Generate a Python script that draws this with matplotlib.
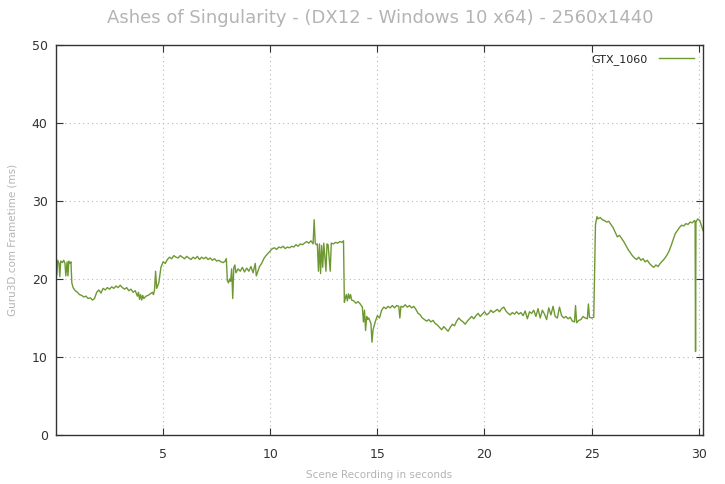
import matplotlib

matplotlib.use("Agg")
import matplotlib.pyplot as plt

TITLE = "Ashes of Singularity - (DX12 - Windows 10 x64) - 2560x1440"
SERIES_NAME = "GTX_1060"
X_LABEL = "Scene Recording in seconds"
Y_LABEL = "Guru3D.com Frametime (ms)"
X_TICKS = [5, 10, 15, 20, 25, 30]
Y_TICKS = [0, 10, 20, 30, 40, 50]

time_s = [
    0.00, 0.04, 0.08, 0.14, 0.18, 0.22, 0.30, 0.36, 0.42, 0.46, 0.52, 0.56, 0.60, 0.66, 0.70, 0.74,
    0.80, 0.90, 1.00, 1.10, 1.20, 1.30, 1.40, 1.50, 1.60, 1.70, 1.80, 1.90, 2.00, 2.10, 2.20, 2.30,
    2.40, 2.50, 2.60, 2.70, 2.80, 2.90, 3.00, 3.10, 3.20, 3.30, 3.40, 3.50, 3.60, 3.70, 3.80, 3.85,
    3.90, 3.95, 4.00, 4.05, 4.10, 4.20, 4.30, 4.40, 4.50, 4.55, 4.60, 4.65, 4.70, 4.80, 4.90, 5.00,
    5.10, 5.20, 5.30, 5.40, 5.50, 5.60, 5.70, 5.80, 5.90, 6.00, 6.10, 6.20, 6.30, 6.40, 6.50, 6.60,
    6.70, 6.80, 6.90, 7.00, 7.10, 7.20, 7.30, 7.40, 7.50, 7.60, 7.70, 7.80, 7.90, 7.95, 8.00, 8.05,
    8.10, 8.15, 8.20, 8.25, 8.30, 8.35, 8.40, 8.50, 8.60, 8.70, 8.80, 8.90, 9.00, 9.10, 9.20, 9.30,
    9.35, 9.40, 9.50, 9.60, 9.70, 9.80, 9.90, 10.00, 10.10, 10.20, 10.30, 10.40, 10.50, 10.60, 10.70,
    10.80, 10.90, 11.00, 11.10, 11.20, 11.30, 11.40, 11.50, 11.60, 11.70, 11.80, 11.90, 12.00, 12.05,
    12.10, 12.15, 12.20, 12.25, 12.30, 12.35, 12.40, 12.45, 12.50, 12.60, 12.65, 12.70, 12.80, 12.85,
    12.95, 13.05, 13.15, 13.25, 13.35, 13.42, 13.46, 13.50, 13.55, 13.60, 13.65, 13.70, 13.75, 13.80,
    13.90, 14.00, 14.10, 14.20, 14.30, 14.35, 14.40, 14.45, 14.50, 14.55, 14.60, 14.70, 14.75, 14.80,
    14.90, 15.00, 15.10, 15.20, 15.30, 15.40, 15.50, 15.60, 15.70, 15.80, 15.90, 16.00, 16.05, 16.10,
    16.20, 16.30, 16.40, 16.50, 16.60, 16.70, 16.80, 16.90, 17.00, 17.10, 17.20, 17.30, 17.40, 17.50,
    17.60, 17.70, 17.80, 17.90, 18.00, 18.10, 18.20, 18.30, 18.40, 18.50, 18.60, 18.70, 18.80, 18.90,
    19.00, 19.10, 19.20, 19.30, 19.40, 19.50, 19.60, 19.70, 19.80, 19.90, 20.00, 20.10, 20.20, 20.30,
    20.40, 20.50, 20.60, 20.70, 20.80, 20.90, 21.00, 21.10, 21.20, 21.30, 21.40, 21.50, 21.60, 21.70,
    21.80, 21.90, 22.00, 22.10, 22.20, 22.30, 22.40, 22.50, 22.60, 22.70, 22.80, 22.90, 23.00, 23.10,
    23.20, 23.30, 23.40, 23.50, 23.60, 23.70, 23.80, 23.90, 24.00, 24.10, 24.20, 24.25, 24.30, 24.40,
    24.50, 24.60, 24.70, 24.80, 24.85, 24.90, 25.00, 25.10, 25.18, 25.25, 25.30, 25.40, 25.50, 25.60,
    25.70, 25.80, 25.90, 26.00, 26.10, 26.20, 26.30, 26.40, 26.50, 26.60, 26.70, 26.80, 26.90, 27.00,
    27.10, 27.20, 27.30, 27.40, 27.50, 27.60, 27.70, 27.80, 27.90, 28.00, 28.10, 28.20, 28.30, 28.40,
    28.50, 28.60, 28.70, 28.80, 28.90, 29.00, 29.10, 29.20, 29.30, 29.40, 29.50, 29.60, 29.70, 29.80,
    29.83, 29.85, 29.87, 29.95, 30.05, 30.12, 30.20,
]

frametime_ms = [
    22.9, 20.5, 22.4, 22.0, 20.3, 22.3, 22.1, 22.4, 22.0, 20.4, 22.2, 20.4, 22.3, 22.0, 22.2, 19.5,
    18.9, 18.5, 18.3, 18.0, 17.9, 17.7, 17.8, 17.5, 17.6, 17.3, 17.5, 18.3, 18.6, 18.2, 18.8, 18.6,
    18.9, 18.7, 19.0, 18.8, 19.1, 18.9, 19.2, 18.9, 18.7, 18.9, 18.5, 18.7, 18.3, 18.5, 17.8, 18.3,
    17.4, 18.0, 17.3, 17.9, 17.5, 17.8, 17.9, 18.1, 18.3, 18.0, 18.6, 21.0, 18.8, 19.5, 21.5, 22.2,
    22.0, 22.5, 22.8, 22.6, 23.0, 22.8, 22.7, 23.0, 22.8, 22.6, 22.9, 22.7, 22.5, 22.8, 22.6, 22.9,
    22.5, 22.8, 22.6, 22.8, 22.5, 22.7, 22.4, 22.6, 22.3, 22.4, 22.2, 22.1, 22.3, 22.6, 19.8, 19.5,
    20.0, 19.7, 21.3, 17.5, 21.5, 21.8, 20.8, 21.3, 21.0, 21.5, 20.9, 21.4, 21.0, 21.6, 20.8, 22.0,
    20.4, 20.8, 21.6, 22.0, 22.6, 23.0, 23.3, 23.6, 23.9, 24.0, 23.8, 24.1, 24.0, 24.2, 23.9,
    24.1, 24.0, 24.2, 24.1, 24.4, 24.2, 24.5, 24.4, 24.6, 24.8, 24.6, 24.9, 24.5, 27.6,
    24.6, 24.4, 24.5, 21.0, 24.5, 20.7, 24.3, 21.5, 24.6, 21.0, 24.5, 24.4, 21.0, 24.6,
    24.5, 24.7, 24.6, 24.8, 24.7, 24.9, 17.0, 17.5, 18.0, 17.2, 18.1, 17.5, 18.0, 17.3,
    17.2, 16.9, 17.1, 16.8, 16.4, 14.5, 16.0, 13.4, 15.2, 14.8, 15.0, 14.3, 11.9, 13.5,
    14.5, 15.3, 15.0, 16.0, 16.4, 16.2, 16.5, 16.3, 16.6, 16.3, 16.6, 16.5, 15.0, 16.5,
    16.4, 16.7, 16.4, 16.6, 16.3, 16.5, 16.1, 15.6, 15.4, 15.0, 14.8, 14.6, 14.8, 14.5,
    14.7, 14.3, 14.1, 13.8, 13.5, 13.9, 13.6, 13.3, 13.8, 14.2, 14.0, 14.6, 15.0, 14.7,
    14.5, 14.2, 14.6, 14.9, 15.2, 14.9, 15.3, 15.6, 15.2, 15.5, 15.8, 15.4, 15.6, 16.0,
    15.7, 15.9, 16.1, 15.8, 16.2, 16.4, 15.9, 15.6, 15.4, 15.7, 15.5, 15.8, 15.5, 15.7,
    15.3, 15.9, 14.9, 15.8, 15.6, 16.0, 15.2, 16.2, 15.0, 16.0, 15.5, 14.8, 16.3, 15.4,
    16.5, 15.2, 15.0, 16.4, 15.3, 15.0, 15.2, 14.9, 15.1, 14.6, 14.5, 16.6, 14.4, 14.7,
    14.8, 15.2, 15.0, 14.9, 16.8, 15.1, 15.0, 15.1, 27.0, 28.0, 27.7, 27.9, 27.6, 27.5,
    27.3, 27.4, 27.0, 26.6, 26.0, 25.4, 25.6, 25.2, 24.8, 24.3, 23.8, 23.4, 23.0, 22.7,
    22.5, 22.8, 22.4, 22.6, 22.2, 22.4, 22.0, 21.7, 21.5, 21.8, 21.6, 22.0, 22.3, 22.6,
    23.0, 23.5, 24.2, 25.0, 25.8, 26.2, 26.6, 26.9, 26.8, 27.1, 27.0, 27.3, 27.2, 27.5,
    27.4, 10.7, 27.3, 27.7, 27.5, 26.9, 26.2,
]

line_color = "#6e9932"
grid_color = "#b8b8b8"

fig = plt.figure(figsize=(7.25, 4.84), dpi=100)
ax = fig.add_axes([0.0772, 0.1012, 0.8925, 0.8058])

ax.plot(time_s, frametime_ms, color=line_color, linewidth=1.0, label=SERIES_NAME)

ax.set_xlim(0, 30.2)
ax.set_ylim(0, 50)
ax.set_xticks(X_TICKS)
ax.set_yticks(Y_TICKS)
ax.grid(True, color=grid_color, linestyle=(0, (1, 3)), linewidth=0.8)
ax.tick_params(direction="in", top=True, right=True, length=5, width=0.8,
               labelsize=9, labelcolor="#333333", colors="#333333")
ax.tick_params(axis="x", pad=9)
ax.tick_params(axis="y", pad=6)
for spine in ax.spines.values():
    spine.set_color("#333333")
    spine.set_linewidth(1.0)

ax.set_xlabel(X_LABEL, fontsize=7.5, color="#b4b4b4", labelpad=7)
ax.set_ylabel(Y_LABEL, fontsize=7.5, color="#b4b4b4", labelpad=10)
fig.text(0.525, 0.962, TITLE, ha="center", va="center", fontsize=13,
         color="#b4b4b4", family="DejaVu Sans")

leg = ax.legend(loc="upper right", frameon=False, fontsize=8,
                handlelength=3.2, borderaxespad=0.4, handletextpad=1.0,
                markerfirst=False)
for txt in leg.get_texts():
    txt.set_color("#222222")

fig.savefig("out.png", dpi=100)
